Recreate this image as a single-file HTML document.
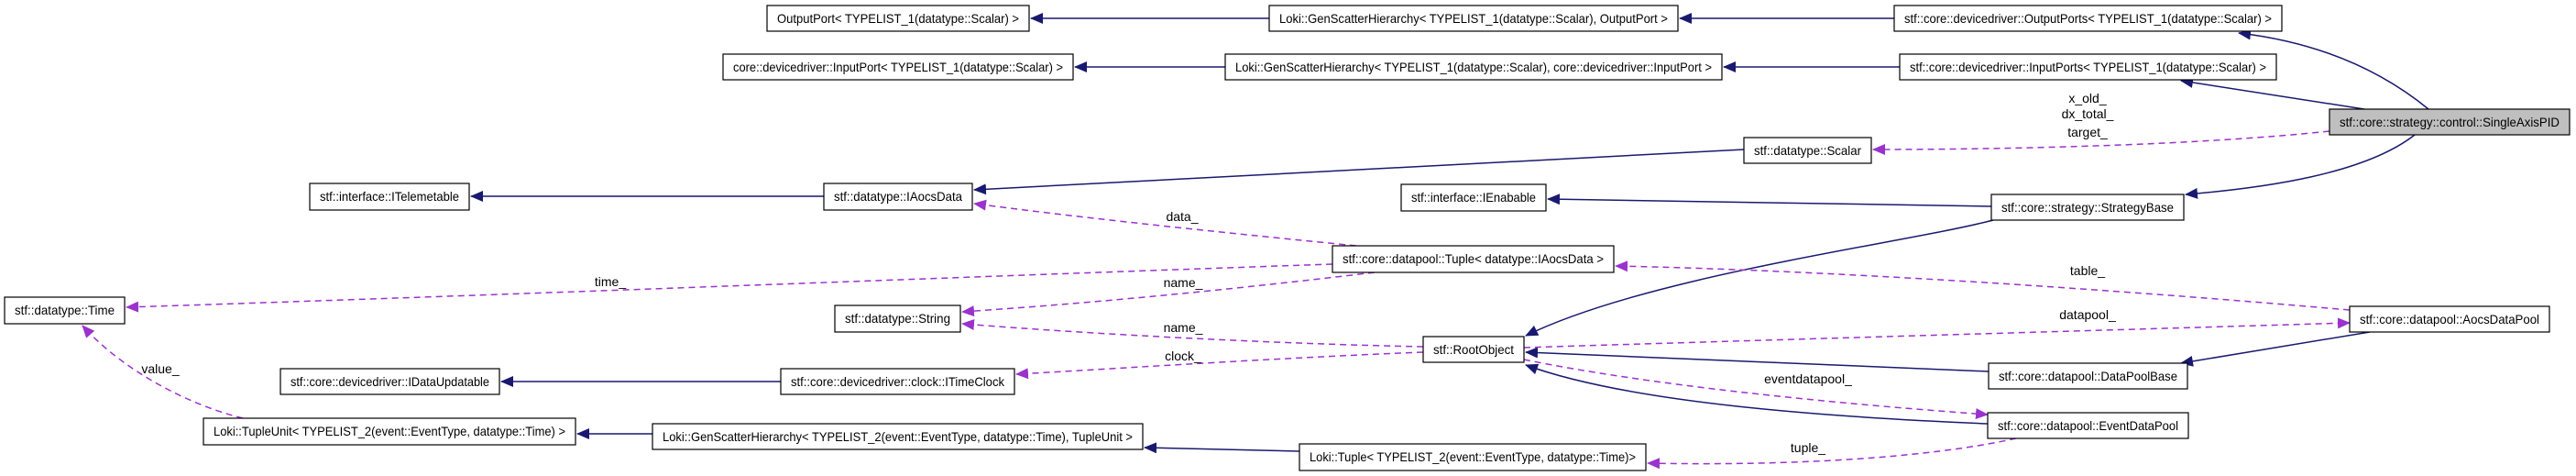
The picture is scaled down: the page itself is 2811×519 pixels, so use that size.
<!DOCTYPE html>
<html><head><meta charset="utf-8"><style>
html,body{margin:0;padding:0;background:#fff;}
svg{display:block;font-family:"Liberation Sans",Arial,sans-serif;}
</style></head><body>
<svg width="2811" height="519" viewBox="0 0 2811 519" xmlns="http://www.w3.org/2000/svg">
<defs>
<marker id="b" markerWidth="14" markerHeight="12" refX="13" refY="6" orient="auto" markerUnits="userSpaceOnUse"><path d="M0,0 L14,6 L0,12 z" fill="#191970"/></marker>
<marker id="p" markerWidth="14" markerHeight="12" refX="13" refY="6" orient="auto" markerUnits="userSpaceOnUse"><path d="M0,0 L14,6 L0,12 z" fill="#9a32cd"/></marker>
</defs>
<g fill="none" stroke="#191970" stroke-width="1.5" marker-end="url(#b)">
<path d="M1385,20 L1125,20"/>
<path d="M2067,20 L1833,20"/>
<path d="M1337,73 L1173,73"/>
<path d="M2073,73 L1881,73"/>
<path d="M2650,119 C2590,70 2520,45 2443,36"/>
<path d="M2580,119 L2380,88"/>
<path d="M2635,147 C2580,190 2470,205 2385,212"/>
<path d="M1903,163 L1063,207"/>
<path d="M2173,225 L1689,217"/>
<path d="M899,214 L514,214"/>
<path d="M2175,240 C2080,265 1800,300 1665,366"/>
<path d="M2170,405 L1665,384"/>
<path d="M2169,462 C2000,455 1780,440 1665,398"/>
<path d="M2586,362 L2380,396"/>
<path d="M852,416 L547,416"/>
<path d="M712,473 L630,473"/>
<path d="M1418,492 L1249,488"/>
</g>
<g fill="none" stroke="#9a32cd" stroke-width="1.5" stroke-dasharray="7,5" marker-end="url(#p)">
<path d="M2542,143 C2400,158 2200,163 2044,163"/>
<path d="M1480,268 C1350,255 1200,240 1063,222"/>
<path d="M1454,288 C1100,300 600,320 138,335"/>
<path d="M1500,297 C1350,315 1200,330 1050,340"/>
<path d="M1553,378 C1400,375 1200,365 1050,353"/>
<path d="M1553,384 C1400,390 1250,400 1109,408"/>
<path d="M2564,338 C2300,315 2000,295 1763,290"/>
<path d="M1663,379 C1950,370 2300,360 2564,352"/>
<path d="M1663,392 C1800,420 2000,440 2169,452"/>
<path d="M2200,478 C2100,500 1950,508 1798,505"/>
<path d="M265,456 C200,440 130,400 90,355"/>
</g>
<g fill="#fff" stroke="#000" stroke-width="1.2">
<rect x="837" y="6" width="286" height="28"/>
<rect x="1385" y="6" width="446" height="28"/>
<rect x="2067" y="6" width="423" height="28"/>
<rect x="789" y="59" width="382" height="28"/>
<rect x="1337" y="59" width="542" height="28"/>
<rect x="2073" y="59" width="411" height="28"/>
<rect x="2542" y="119" width="262" height="28" fill="#bfbfbf"/>
<rect x="1903" y="150" width="139" height="28"/>
<rect x="338" y="200" width="174" height="29"/>
<rect x="899" y="200" width="162" height="29"/>
<rect x="1529" y="201" width="158" height="29"/>
<rect x="2173" y="212" width="210" height="28"/>
<rect x="1454" y="268" width="307" height="29"/>
<rect x="5" y="324" width="131" height="29"/>
<rect x="911" y="333" width="137" height="29"/>
<rect x="2564" y="334" width="218" height="28"/>
<rect x="1553" y="367" width="110" height="28"/>
<rect x="2170" y="396" width="217" height="28"/>
<rect x="306" y="402" width="239" height="28"/>
<rect x="852" y="402" width="255" height="28"/>
<rect x="2169" y="450" width="219" height="28"/>
<rect x="222" y="456" width="406" height="29"/>
<rect x="712" y="462" width="535" height="28"/>
<rect x="1418" y="484" width="378" height="29"/>
</g>
<g font-size="14" fill="#000" lengthAdjust="spacingAndGlyphs">
<text x="848" y="25" textLength="264" lengthAdjust="spacingAndGlyphs">OutputPort&lt; TYPELIST_1(datatype::Scalar) &gt;</text>
<text x="1396" y="25" textLength="424" lengthAdjust="spacingAndGlyphs">Loki::GenScatterHierarchy&lt; TYPELIST_1(datatype::Scalar), OutputPort &gt;</text>
<text x="2078" y="25" textLength="401" lengthAdjust="spacingAndGlyphs">stf::core::devicedriver::OutputPorts&lt; TYPELIST_1(datatype::Scalar) &gt;</text>
<text x="800" y="78" textLength="360" lengthAdjust="spacingAndGlyphs">core::devicedriver::InputPort&lt; TYPELIST_1(datatype::Scalar) &gt;</text>
<text x="1348" y="78" textLength="520" lengthAdjust="spacingAndGlyphs">Loki::GenScatterHierarchy&lt; TYPELIST_1(datatype::Scalar), core::devicedriver::InputPort &gt;</text>
<text x="2084" y="78" textLength="389" lengthAdjust="spacingAndGlyphs">stf::core::devicedriver::InputPorts&lt; TYPELIST_1(datatype::Scalar) &gt;</text>
<text x="2553" y="138" textLength="240" lengthAdjust="spacingAndGlyphs">stf::core::strategy::control::SingleAxisPID</text>
<text x="1914" y="169" textLength="117" lengthAdjust="spacingAndGlyphs">stf::datatype::Scalar</text>
<text x="349" y="219" textLength="152" lengthAdjust="spacingAndGlyphs">stf::interface::ITelemetable</text>
<text x="910" y="219" textLength="140" lengthAdjust="spacingAndGlyphs">stf::datatype::IAocsData</text>
<text x="1540" y="220" textLength="136" lengthAdjust="spacingAndGlyphs">stf::interface::IEnabable</text>
<text x="2184" y="231" textLength="188" lengthAdjust="spacingAndGlyphs">stf::core::strategy::StrategyBase</text>
<text x="1465" y="287" textLength="285" lengthAdjust="spacingAndGlyphs">stf::core::datapool::Tuple&lt; datatype::IAocsData &gt;</text>
<text x="16" y="343" textLength="109" lengthAdjust="spacingAndGlyphs">stf::datatype::Time</text>
<text x="922" y="352" textLength="115" lengthAdjust="spacingAndGlyphs">stf::datatype::String</text>
<text x="2575" y="353" textLength="196" lengthAdjust="spacingAndGlyphs">stf::core::datapool::AocsDataPool</text>
<text x="1564" y="386" textLength="88" lengthAdjust="spacingAndGlyphs">stf::RootObject</text>
<text x="2181" y="415" textLength="195" lengthAdjust="spacingAndGlyphs">stf::core::datapool::DataPoolBase</text>
<text x="317" y="421" textLength="217" lengthAdjust="spacingAndGlyphs">stf::core::devicedriver::IDataUpdatable</text>
<text x="863" y="421" textLength="233" lengthAdjust="spacingAndGlyphs">stf::core::devicedriver::clock::ITimeClock</text>
<text x="2180" y="469" textLength="197" lengthAdjust="spacingAndGlyphs">stf::core::datapool::EventDataPool</text>
<text x="233" y="475" textLength="384" lengthAdjust="spacingAndGlyphs">Loki::TupleUnit&lt; TYPELIST_2(event::EventType, datatype::Time) &gt;</text>
<text x="723" y="481" textLength="513" lengthAdjust="spacingAndGlyphs">Loki::GenScatterHierarchy&lt; TYPELIST_2(event::EventType, datatype::Time), TupleUnit &gt;</text>
<text x="1429" y="503" textLength="356" lengthAdjust="spacingAndGlyphs">Loki::Tuple&lt; TYPELIST_2(event::EventType, datatype::Time)&gt;</text>
</g>
<g font-size="14" fill="#000" text-anchor="middle">
<text x="2278" y="112">x_old_</text>
<text x="2278" y="129">dx_total_</text>
<text x="2278" y="149">target_</text>
<text x="1290" y="241">data_</text>
<text x="666" y="312">time_</text>
<text x="1291" y="313">name_</text>
<text x="1291" y="362">name_</text>
<text x="1291" y="393">clock_</text>
<text x="2278" y="300">table_</text>
<text x="2278" y="348">datapool_</text>
<text x="1973" y="418">eventdatapool_</text>
<text x="1973" y="493">tuple_</text>
<text x="175" y="407">value_</text>
</g>
</svg>
</body></html>
